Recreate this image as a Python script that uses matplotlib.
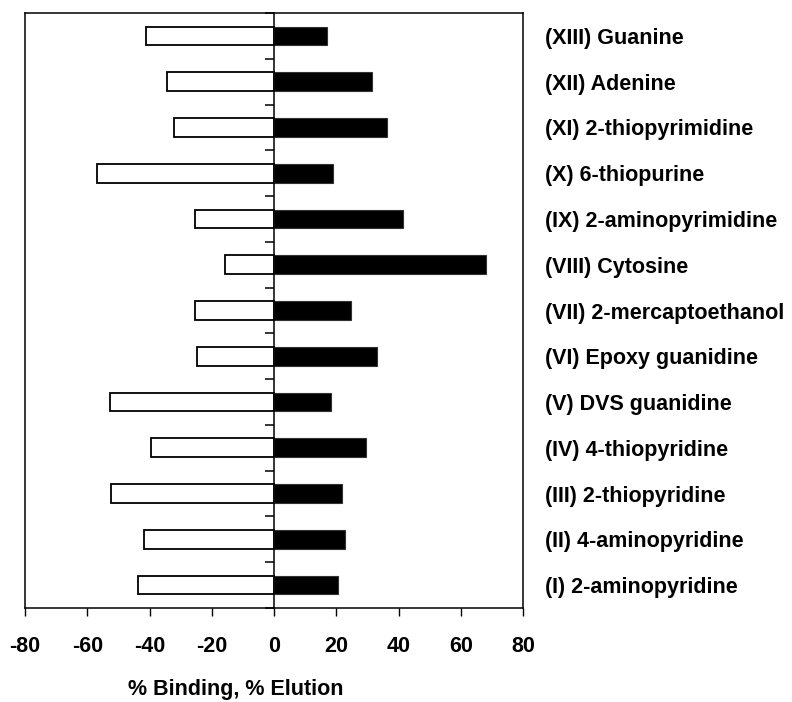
#!/usr/bin/env python3
"""Binding / elution percentages per ligand, as a back-to-back horizontal bar chart."""

import matplotlib

matplotlib.use("Agg")
import matplotlib.pyplot as plt
import numpy as np

# bottom (I) to top (XIII)
ligands = [
    "(I) 2-aminopyridine",
    "(II) 4-aminopyridine",
    "(III) 2-thiopyridine",
    "(IV) 4-thiopyridine",
    "(V) DVS guanidine",
    "(VI) Epoxy guanidine",
    "(VII) 2-mercaptoethanol",
    "(VIII) Cytosine",
    "(IX) 2-aminopyrimidine",
    "(X) 6-thiopurine",
    "(XI) 2-thiopyrimidine",
    "(XII) Adenine",
    "(XIII) Guanine",
]
binding = [-43.6, -41.7, -52.4, -39.6, -52.8, -24.6, -25.5, -15.8, -25.5, -56.8, -32.0, -34.3, -41.1]
elution = [20.7, 22.8, 21.8, 29.6, 18.4, 33.0, 24.7, 68.2, 41.5, 18.9, 36.3, 31.5, 17.0]
xticks = [-80, -60, -40, -20, 0, 20, 40, 60, 80]
xlabel = "% Binding, % Elution"

plt.rcParams["font.family"] = ["Liberation Sans", "DejaVu Sans"]
plt.rcParams["font.weight"] = "bold"

W, H = 792, 702
fig = plt.figure(figsize=(W / 100, H / 100), dpi=100)
ax = fig.add_axes([25 / W, (H - 608) / H, 498 / W, 595 / H])

y = np.arange(len(ligands))
ax.barh(y, binding, height=0.41, color="white", edgecolor="black", linewidth=1.3, zorder=2)
ax.barh(y, elution, height=0.41, color="black", edgecolor="#333333", linewidth=0.8, zorder=2)

ax.set_xlim(-80, 80)
ax.set_ylim(-0.5, len(ligands) - 0.5)

# category axis sits on zero; the frame at -80 is drawn separately
ax.spines["left"].set_position(("data", 0))
ax.axvline(-80, color="black", linewidth=1.1, clip_on=False, zorder=3)
for s in ax.spines.values():
    s.set_linewidth(1.1)
    s.set_zorder(3)

ax.set_xticks(xticks)
ax.set_xticklabels([str(v) for v in xticks])
ax.tick_params(axis="x", direction="out", length=6, width=1, pad=14, labelsize=15.5)

ax.set_yticks(y)
ax.set_yticklabels(ligands)
ax.set_yticks(np.arange(-0.5, len(ligands)), minor=True)
ax.tick_params(axis="y", which="major", left=False, right=False,
               labelleft=False, labelright=True, pad=12, labelsize=15.5)
ax.tick_params(axis="y", which="minor", left=True, right=False,
               direction="out", length=6.5, width=1.1)

fig.text(236 / W, 1 - 690 / H, xlabel, ha="center", va="center",
         fontsize=15.5, fontweight="bold")

fig.savefig("out.png", dpi=100)
